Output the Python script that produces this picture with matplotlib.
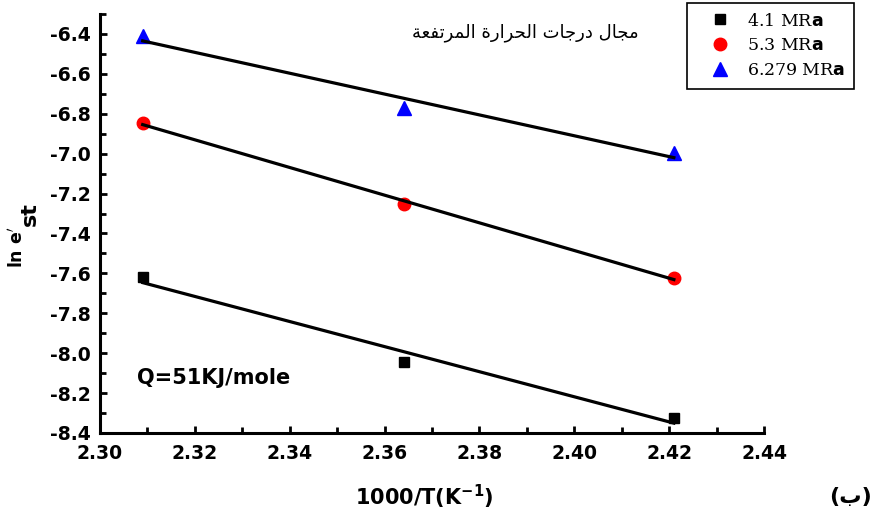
import numpy as np
import matplotlib
matplotlib.use("Agg")
import matplotlib.pyplot as plt
import matplotlib.ticker as ticker

# 1000/T values and ln e'st for the three stresses
x = [2.309, 2.364, 2.421]
y_41 = [-7.62, -8.044, -8.325]
y_53 = [-6.846, -7.252, -7.623]
y_6279 = [-6.41, -6.771, -6.996]

labels = ["4.1 MR$\\mathbf{a}$", "5.3 MR$\\mathbf{a}$", "6.279 MR$\\mathbf{a}$"]

# arabic text written in presentation forms, visual order (matplotlib does no shaping)
w4 = "\uFE94\uFECC\uFED4\uFE97\uFEAE\uFEE4\uFEDF\uFE8D"
w3 = "\uFE93\uFEAD\uFE8D\uFEAE\uFEA4\uFEDF\uFE8D"
w2 = "\uFE95\uFE8E\uFE9F\uFEAD\uFEA9"
w1 = "\uFEDD\uFE8E\uFEA0\uFEE3"
title_ar = w4 + " " + w3 + " " + w2 + " " + w1

plt.rcParams['font.family'] = ['DejaVu Sans']
plt.rcParams['font.weight'] = 'bold'

fig = plt.figure(figsize=(8.88, 5.21), dpi=100)
ax = fig.add_axes([100/888, 1-433/521, 664/888, 419/521])

xs = np.array(x)
series = [(y_41, 's', 'black', 7), (y_53, 'o', 'red', 9), (y_6279, '^', 'blue', 10)]
handles = []
for (ys, m, c, ms), lab in zip(series, labels):
    h, = ax.plot(xs, ys, linestyle='none', marker=m, color=c, markersize=ms, zorder=2, label=lab)
    handles.append(h)
    k, b = np.polyfit(xs, ys, 1)
    ax.plot(xs[[0, -1]], k*xs[[0, -1]] + b, color='black', linewidth=2.3, zorder=3)

ax.set_xlim(2.30, 2.44)
ax.set_ylim(-8.4, -6.3)
ax.xaxis.set_major_locator(ticker.MultipleLocator(0.02))
ax.xaxis.set_minor_locator(ticker.MultipleLocator(0.01))
ax.yaxis.set_major_locator(ticker.MultipleLocator(0.2))
ax.yaxis.set_minor_locator(ticker.MultipleLocator(0.1))
ax.xaxis.set_major_formatter(ticker.FormatStrFormatter('%.2f'))
ax.yaxis.set_major_formatter(ticker.FormatStrFormatter('%.1f'))

ax.spines['top'].set_visible(False)
ax.spines['right'].set_visible(False)
for s in ['left', 'bottom']:
    ax.spines[s].set_linewidth(2.2)
ax.tick_params(which='both', direction='in', width=2, labelsize=13.5)
ax.tick_params(which='major', length=5)
ax.tick_params(which='minor', length=4)
ax.tick_params(axis='x', which='major', pad=8)
ax.tick_params(axis='y', which='major', pad=7)
for t in ax.get_xticklabels() + ax.get_yticklabels():
    t.set_fontweight('bold')

fig.text(424/888, 1-497/521, "1000/T(K$^{\\mathbf{-1}}$)", fontsize=15, fontweight='bold',
         ha='center', va='center')
fig.text(17/888, 1-247/521, "ln e$^{\\prime}$", rotation=90, fontsize=12.5, fontweight='bold',
         ha='center', va='center')
fig.text(30/888, 1-214/521, "st", rotation=90, fontsize=16, fontweight='bold',
         ha='center', va='center')

ax.text(137/888, 1-378/521, "Q=51KJ/mole", transform=fig.transFigure, fontsize=15,
        fontweight='bold', va='center', ha='left')
fig.text(525/888, 1-33/521, title_ar, fontsize=13, fontweight='normal', ha='center', va='center')
fig.text(850/888, 1-497/521, "(\u0628)", fontsize=16, fontweight='bold', ha='center', va='center')

leg = ax.legend(handles=handles, loc='upper left', bbox_to_anchor=(687/888, 1-3/521),
                bbox_transform=fig.transFigure, prop={'family': 'DejaVu Serif', 'size': 12.5, 'weight': 'normal'},
                fancybox=False, framealpha=1, edgecolor='black', borderpad=0.55,
                labelspacing=0.45, handletextpad=0.2, handlelength=2.7, borderaxespad=0)
leg.get_frame().set_linewidth(1.2)

fig.savefig("out.png", dpi=100)
